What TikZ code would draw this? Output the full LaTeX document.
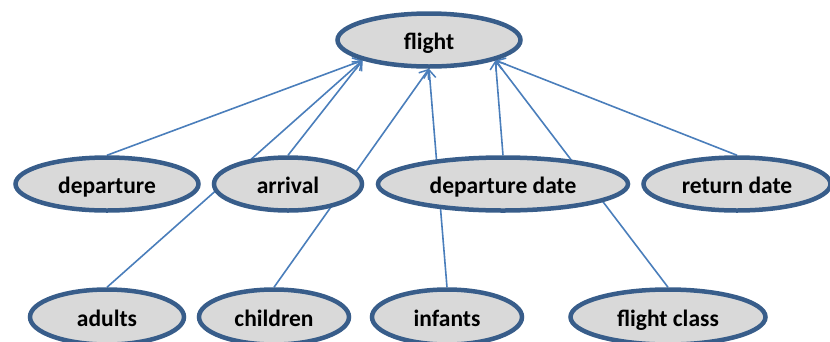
\documentclass[tikz,border=0pt]{standalone}
\usepackage{fontspec}
\setmainfont{Carlito}
\usetikzlibrary{shapes.geometric,arrows.meta,backgrounds}
\definecolor{ringblue}{HTML}{385D8A}
\definecolor{ringfill}{HTML}{D9D9D9}
\definecolor{linkblue}{HTML}{4A7EBB}
\begin{document}
\begin{tikzpicture}[x=1pt,y=-1pt,
  concept/.style={ellipse,draw=ringblue,fill=ringfill,line width=4.5pt,
    inner sep=0pt,minimum height=53pt,text height=20pt,text depth=2pt,
    font=\fontsize{23.5}{28}\selectfont\bfseries,text=black},
  link/.style={draw=linkblue,line width=1.6pt,
    -{Straight Barb[length=8pt,width=12pt,line width=1.5pt]}}]
\useasboundingbox (0,0) rectangle (830,341);
% root concept
\node[concept,minimum width=183pt] (flight) at (429,40) {flight};
% second row
\node[concept,minimum width=183pt] (departure) at (107,184) {departure};
\node[concept,minimum width=148pt] (arrival) at (288,184) {arrival};
\node[concept,minimum width=250pt] (depdate) at (503,184) {departure date};
\node[concept,minimum width=187pt] (retdate) at (737,184) {return date};
% bottom row
\node[concept,minimum width=154pt,minimum height=55pt] (adults) at (107,317) {adults};
\node[concept,minimum width=150pt,minimum height=55pt] (children) at (274,317) {children};
\node[concept,minimum width=150pt,minimum height=55pt] (infants) at (447,317) {infants};
\node[concept,minimum width=195pt,minimum height=55pt] (fclass) at (668,317) {flight class};
% links, kept behind the ellipses
\begin{scope}[on background layer]
\draw[link] (departure.north) -- (flight.197);
\draw[link] (adults.north) -- (flight.197);
\draw[link] (arrival.north) -- (flight.197);
\draw[link] (children.north) -- (flight.south);
\draw[link] (infants.north) -- (flight.south);
\draw[link] (depdate.north) -- (flight.343);
\draw[link] (fclass.north) -- (flight.343);
\draw[link] (retdate.north) -- (flight.343);
\end{scope}
\end{tikzpicture}
\end{document}
